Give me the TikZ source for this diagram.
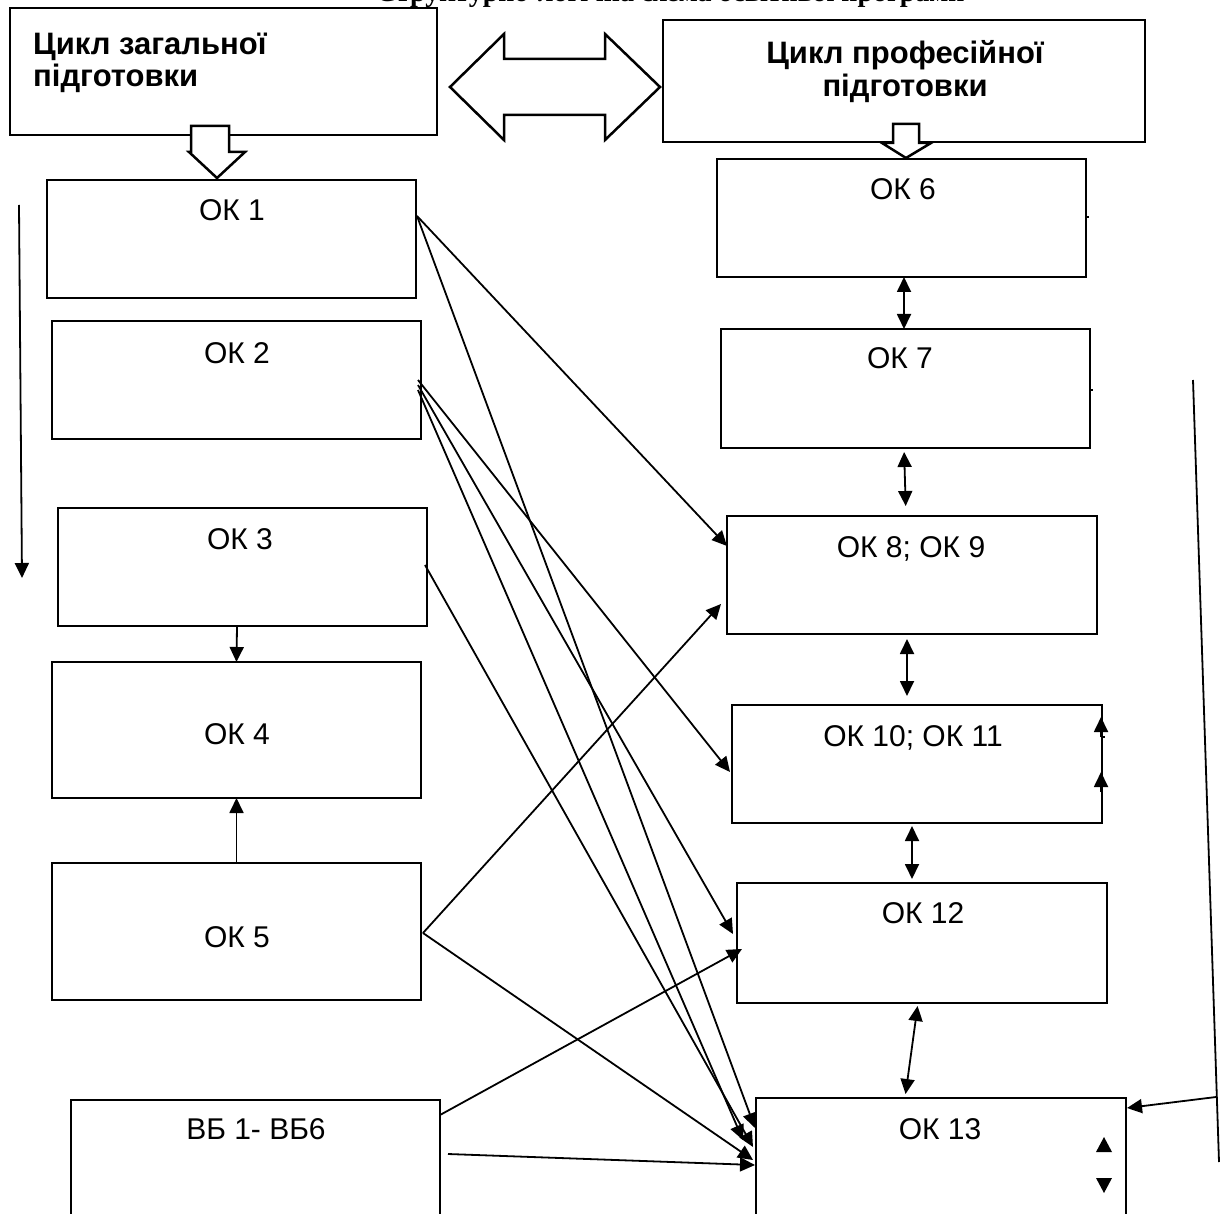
\documentclass[tikz,border=0pt]{standalone}
\usepackage{fontspec}
\setmainfont{Liberation Sans}
\newfontfamily\titlefont{Liberation Serif}
\usetikzlibrary{arrows.meta,calc}
\begin{document}
\begin{tikzpicture}[x=1pt,y=-1pt,
  box/.style={draw,line width=2.5pt,anchor=north west,inner sep=0pt,outer sep=0pt},
  lbl/.style={anchor=base,font=\fontsize{30}{36}\selectfont,inner sep=0pt},
  hd/.style={font=\fontsize{31}{33}\selectfont\bfseries,inner sep=0pt},
  con/.style={line width=1.8pt,-{Triangle[length=15pt,width=14pt]}},
  dcon/.style={line width=1.8pt,{Triangle[length=15pt,width=14pt]}-{Triangle[length=15pt,width=14pt]}},
  blk/.style={draw,line width=2.5pt,fill=white,line join=miter}]
\path[use as bounding box] (0,0) rectangle (1223,1214);
\clip (0,0) rectangle (1223,1214);

% cut-off title (only the lowest part is visible)
\node[font=\titlefont\bfseries\fontsize{28}{28}\selectfont,anchor=base west,inner sep=0pt] (title) at (376,2) {Структурно-логічна схема освітньої програми};

% header boxes
\node[box,minimum width=427pt,minimum height=127pt] (tl) at (10,8) {};
\node[hd,anchor=base west] (tl1) at (33,55) {Цикл загальної};
\node[hd,anchor=base west] (tl2) at (33,87) {підготовки};
\node[box,minimum width=482pt,minimum height=122pt] (tr) at (663,20) {};
\node[hd,anchor=base] (tr1) at (905,64) {Цикл професійної};
\node[hd,anchor=base] (tr2) at (905,97) {підготовки};

% left column
\node[box,minimum width=369pt,minimum height=118pt] (ok1) at (47,180) {};
\node[lbl] (ok1t) at (232,221) {ОК 1};
\node[box,minimum width=369pt,minimum height=118pt] (ok2) at (52,321) {};
\node[lbl] (ok2t) at (237,363) {ОК 2};
\node[box,minimum width=369pt,minimum height=118pt] (ok3) at (58,508) {};
\node[lbl] (ok3t) at (240,549) {ОК 3};
\node[box,minimum width=369pt,minimum height=136pt] (ok4) at (52,662) {};
\node[lbl] (ok4t) at (237,744) {ОК 4};
\node[box,minimum width=369pt,minimum height=137pt] (ok5) at (52,863) {};
\node[lbl] (ok5t) at (237,947) {ОК 5};
\node[box,minimum width=369pt,minimum height=200pt] (vb) at (71,1100) {};
\node[lbl] (vbt) at (256,1139) {ВБ 1- ВБ6};

% right column
\node[box,minimum width=369pt,minimum height=118pt] (ok6) at (717,159) {};
\node[lbl] (ok6t) at (903,200) {ОК 6};
\node[box,minimum width=369pt,minimum height=119pt] (ok7) at (721,329) {};
\node[lbl] (ok7t) at (900,369) {ОК 7};
\node[box,minimum width=370pt,minimum height=118pt] (ok89) at (727,516) {};
\node[lbl] (ok89t) at (911,557) {ОК 8; ОК 9};
\node[box,minimum width=370pt,minimum height=118pt] (ok1011) at (732,705) {};
\node[lbl] (ok1011t) at (913,746) {ОК 10; ОК 11};
\node[box,minimum width=370pt,minimum height=120pt] (ok12) at (737,883) {};
\node[lbl] (ok12t) at (923,923) {ОК 12};
\node[box,minimum width=370pt,minimum height=200pt] (ok13) at (756,1098) {};
\node[lbl] (ok13t) at (940,1139) {ОК 13};

% block arrows
\draw[blk] (450,87) -- (504,34) -- (504,59) -- (605,59) -- (605,34) -- (660,87)
  -- (605,140) -- (605,115) -- (504,115) -- (504,140) -- cycle;
\draw[blk] (191,126) -- (229,126) -- (229,152) -- (245,152) -- (217,178) -- (189,152) -- (191,152) -- cycle;
\draw[blk] (893,124) -- (919,124) -- (919,143) -- (931,143) -- (906,158) -- (882,143) -- (893,143) -- cycle;

% vertical links, right column
\draw[dcon] ([xshift=2.5pt]ok6.south) -- ([xshift=-1.5pt]ok7.north);
\draw[dcon,shorten <=4pt,shorten >=10pt] ([xshift=-1.5pt]ok7.south) -- ([xshift=-6pt]ok89.north);
\draw[dcon,shorten <=5pt,shorten >=9pt] ([xshift=-5pt]ok89.south) -- ([xshift=-10pt]ok1011.north);
\draw[dcon,shorten <=3pt,shorten >=4pt] ([xshift=-5pt]ok1011.south) -- ([xshift=-10pt]ok12.north);
\draw[dcon,shorten <=3pt,shorten >=4pt] ([xshift=-4pt]ok12.south) -- ([xshift=-36pt]ok13.north);

% vertical links, left column
\draw[con] ([xshift=-5.5pt]ok3.south) -- (ok4.north);
\draw[con] (ok5.north) -- (ok4.south);

% cross links
\draw[con] ($(ok1.north east)+(1,36)$) -- ($(ok89.north west)+(0,30)$);
\draw[con] ($(ok1.north east)+(1,36)$) -- ($(ok13.north west)+(-1,30)$);
\draw[con] ($(ok2.north east)+(-3,59)$) -- ($(ok1011.north west)+(-2,67)$);
\draw[con] ($(ok2.north east)+(-3,64)$) -- ($(ok12.north west)+(-4,51)$);
\draw[con] ($(ok2.north east)+(-3,69)$) -- ($(ok13.north west)+(-13,42)$);
\draw[con] ($(ok3.north east)+(-2,57)$) -- ($(ok13.north west)+(-3,49)$);
\draw[con] ($(ok5.north east)+(2,70)$) -- ($(ok89.north west)+(-6,88)$);
\draw[con] ($(ok5.north east)+(2,70)$) -- ($(ok13.north west)+(-3,62)$);
\draw[con] ($(vb.north east)+(0,15)$) -- ($(ok12.north west)+(5,66)$);
\draw[con] ($(vb.north east)+(8,54)$) -- ($(ok13.north west)+(-1,67)$);

% long side lines
\coordinate (ls1) at (19,205);
\coordinate (ls2) at (22,578);
\draw[con] (ls1) -- (ls2);
\coordinate (rs1) at (1193,380);
\coordinate (rs2) at (1219,1162);
\coordinate (rs3) at (1216,1097);
\draw[line width=1.8pt] (rs1) -- (rs2);
\draw[con] (rs3) -- ($(ok13.north east)+(1,10)$);

% small marks on the right edges
\draw[line width=1.5pt] ($(ok6.north east)+(0,58)$) -- ++(3,0);
\draw[line width=1.5pt] ($(ok7.north east)+(0,61)$) -- ++(3,0);
\draw[con] ($(ok1011.north east)+(-1,32)$) -- ($(ok1011.north east)+(-1,12)$);
\draw[con] ($(ok1011.north east)+(-1,87)$) -- ($(ok1011.north east)+(-1,67)$);
\draw[line width=1.2pt] ($(ok1011.north east)+(1,32)$) -- ++(2,0);
\fill ($(ok13.north east)+(-30,54)$) -- ++(16,0) -- ++(-8,-15) -- cycle;
\fill ($(ok13.north east)+(-30,80)$) -- ++(16,0) -- ++(-8,15) -- cycle;
\end{tikzpicture}
\end{document}
